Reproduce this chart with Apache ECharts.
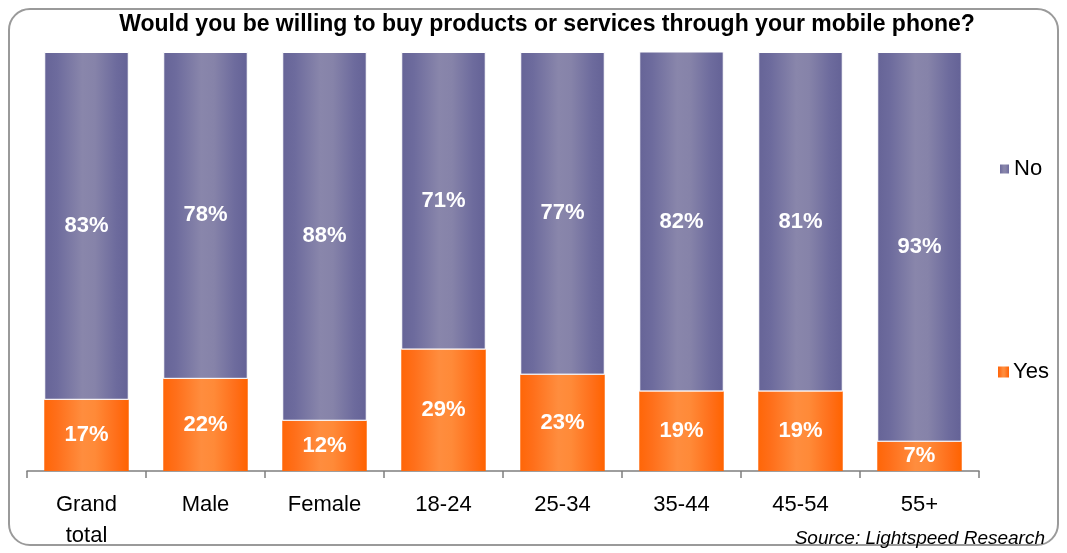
<!DOCTYPE html>
<html><head><meta charset="utf-8">
<script src="https://cdn.jsdelivr.net/npm/echarts@6/dist/echarts.min.js"></script>
<style>
html,body{margin:0;padding:0;background:#fff;}
#frame{position:absolute;left:8px;top:8px;width:1051px;height:538px;border:2px solid #9a9a9a;border-radius:22px;box-sizing:border-box;}
#c{position:absolute;left:0;top:0;width:1067px;height:553px;}
</style></head>
<body>
<div id="frame"></div>
<div id="c"></div>
<script>
const categories = ['Grand\ntotal','Male','Female','18-24','25-34','35-44','45-54','55+'];
const yesValues = [17,22,12,29,23,19,19,7];
const noValues = [83,78,88,71,77,82,81,93];
const titleText = 'Would you be willing to buy products or services through your mobile phone?';
const sourceText = 'Source: Lightspeed Research';

const font = '"Liberation Sans", Arial, sans-serif';
const purple = {type:'linear',x:0,y:0,x2:1,y2:0,colorStops:[
  {offset:0,color:'#666497'},{offset:0.15,color:'#6D6B9D'},{offset:0.45,color:'#8986AB'},
  {offset:0.6,color:'#8683A9'},{offset:0.85,color:'#6D6B9D'},{offset:1,color:'#646296'}]};
const orange = {type:'linear',x:0,y:0,x2:1,y2:0,colorStops:[
  {offset:0,color:'#FF6608'},{offset:0.15,color:'#FF6F1A'},{offset:0.45,color:'#FF8D3E'},
  {offset:0.6,color:'#FF8A38'},{offset:0.85,color:'#FF6F1A'},{offset:1,color:'#FF6300'}]};

const chart = echarts.init(document.getElementById('c'), null, {renderer:'canvas'});
chart.setOption({
  animation:false,
  textStyle:{fontFamily:font},
  title:{text:titleText,left:542,textAlign:'center',top:8,
    textStyle:{fontFamily:font,fontSize:23,fontWeight:'bold',color:'#000'}},
  graphic:[{type:'text',right:22,top:529,style:{text:sourceText,font:'italic 19px "Liberation Sans", Arial, sans-serif',fill:'#000'}}],
  legend:[
    {data:['No'],orient:'vertical',left:993,top:153,itemWidth:11,itemHeight:11,itemGap:10,
     icon:'rect',textStyle:{fontFamily:font,fontSize:22,color:'#000',padding:[0,0,0,-1]}},
    {data:['Yes'],orient:'vertical',left:993,top:356,itemWidth:11,itemHeight:11,itemGap:10,
     icon:'rect',textStyle:{fontFamily:font,fontSize:22,color:'#000',padding:[0,0,0,-1]}}
  ],
  grid:{left:27,right:88,top:52,bottom:82,containLabel:false},
  xAxis:{type:'category',data:categories,
    axisLine:{lineStyle:{color:'#7f7f7f',width:1.5}},
    axisTick:{show:true,length:7,lineStyle:{color:'#7f7f7f',width:1.5}},
    axisLabel:{fontFamily:font,fontSize:22,color:'#000',margin:18,lineHeight:31,interval:0}},
  yAxis:{type:'value',min:0,max:100,show:false,splitLine:{show:false}},
  series:[
    {name:'Yes',type:'bar',stack:'s',data:yesValues,barCategoryGap:'29%',
     itemStyle:{color:orange,borderColor:'#fff',borderWidth:0},
     label:{show:true,position:'inside',formatter:'{c}%',color:'#fff',fontFamily:font,fontSize:22,fontWeight:'bold'}},
    {name:'No',type:'bar',stack:'s',data:noValues,
     itemStyle:{color:purple,borderColor:'#fff',borderWidth:1},
     label:{show:true,position:'inside',formatter:'{c}%',color:'#fff',fontFamily:font,fontSize:22,fontWeight:'bold'}}
  ]
});
</script>
</body></html>
